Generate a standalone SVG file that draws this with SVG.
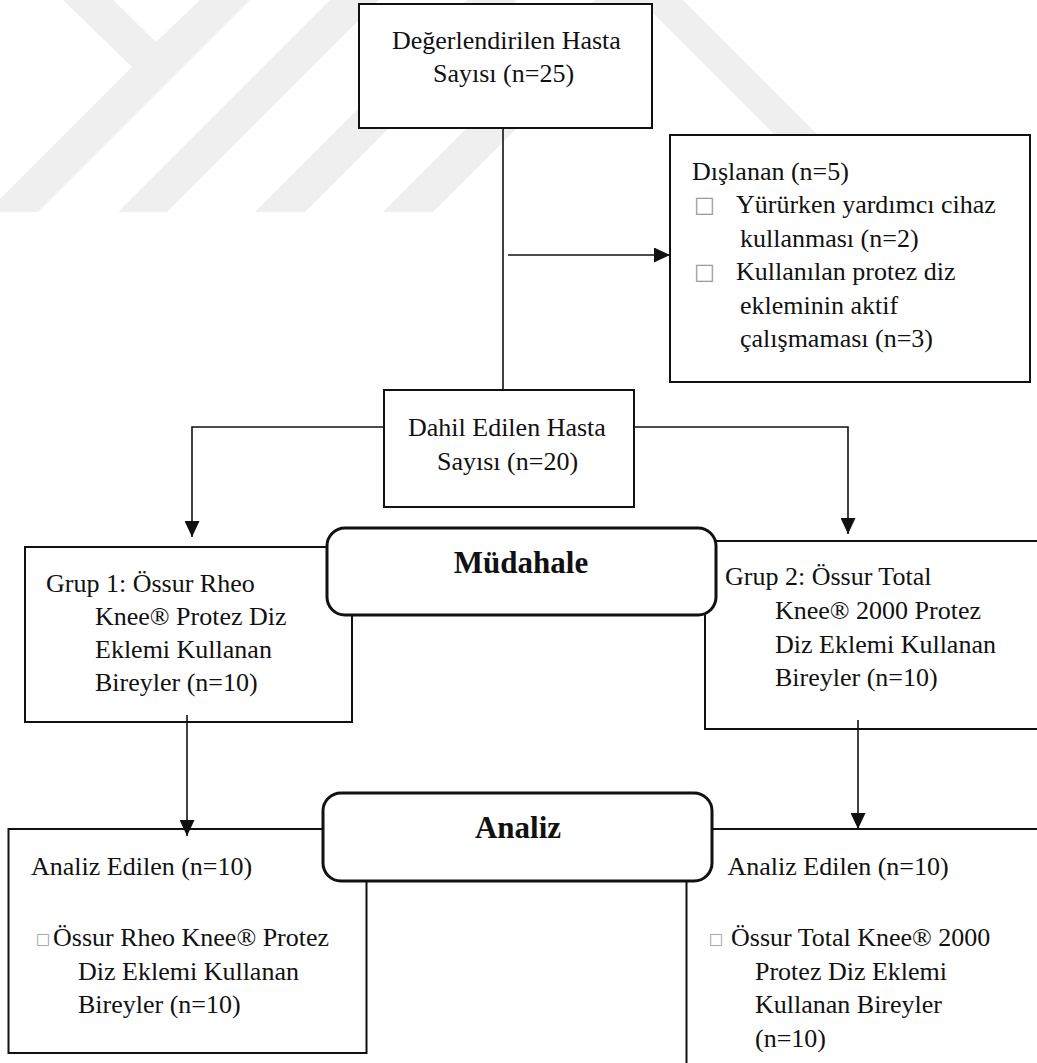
<svg xmlns="http://www.w3.org/2000/svg" width="1037" height="1063" viewBox="0 0 1037 1063">
<style>
.box{fill:#fff;stroke:#111;stroke-width:2}
.rbox{fill:#fff;stroke:#111;stroke-width:3}
.wm{fill:#efefef}
.t{font-size:26px;fill:#111}
.b{font-size:31px;font-weight:bold;fill:#111;text-anchor:middle}
.sq{fill:#9a9a9a}
.c{fill:none;stroke:#111;stroke-width:1.6}
</style>
<defs>
<marker id="ah" viewBox="0 0 16 15" refX="16" refY="7.5" markerWidth="16" markerHeight="15" markerUnits="userSpaceOnUse" orient="auto">
<path d="M0,0 L16,7.5 L0,15 z" fill="#111"/>
</marker>
</defs>
<rect width="1037" height="1063" fill="#fff"/>
<g id="watermark">
<polygon class="wm" points="63,0 113,0 156,42 200,0 250,0 38,212 0,212 0,199 132,67"/>
<polygon class="wm" points="330,0 379,0 167,212 118,212"/>
<polygon class="wm" points="467,0 517,0 305,212 255,212"/>
<polygon class="wm" points="595,0 645,0 433,212 383,212"/>
<polygon class="wm" points="640,0 683,0 818,135 775,135"/>
</g>
<g id="connectors">
<line class="c" x1="503" y1="128" x2="503" y2="390"/>
<line class="c" x1="508" y1="255" x2="670" y2="255" marker-end="url(#ah)"/>
<polyline class="c" points="384,427 192,427 192,537" marker-end="url(#ah)"/>
<polyline class="c" points="634,427 848,427 848,534" marker-end="url(#ah)"/>
</g>
<g font-family="'Liberation Serif', 'Times New Roman', Times, serif">
<g id="n-degerlendirilen">
<rect class="box" x="359" y="4" width="293" height="124"/>
<text class="t" x="392" y="49">Değerlendirilen Hasta</text>
<text class="t" x="433" y="82">Sayısı (n=25)</text>
</g>
<g id="n-dislanan">
<rect class="box" x="670" y="135" width="360" height="247"/>
<text class="t" x="692" y="179.5">Dışlanan (n=5)</text>
<text class="sq" x="694" y="212" font-size="22" font-family="'DejaVu Sans', sans-serif">□</text>
<text class="t" x="736" y="213">Yürürken yardımcı cihaz</text>
<text class="t" x="740" y="246.5">kullanması (n=2)</text>
<text class="sq" x="694" y="279" font-size="22" font-family="'DejaVu Sans', sans-serif">□</text>
<text class="t" x="736" y="280">Kullanılan protez diz</text>
<text class="t" x="740" y="313.5">ekleminin aktif</text>
<text class="t" x="740" y="347">çalışmaması (n=3)</text>
</g>
<g id="n-dahil">
<rect class="box" x="384" y="390" width="250" height="117"/>
<text class="t" x="408" y="436">Dahil Edilen Hasta</text>
<text class="t" x="437" y="470">Sayısı (n=20)</text>
</g>
<g id="n-grup1">
<rect class="box" x="25" y="547" width="327" height="175"/>
<text class="t" x="46" y="591.5">Grup 1: Össur Rheo</text>
<text class="t" x="95" y="624.5">Knee® Protez Diz</text>
<text class="t" x="95" y="657.5">Eklemi Kullanan</text>
<text class="t" x="95" y="690.5">Bireyler (n=10)</text>
</g>
<g id="n-grup2">
<rect class="box" x="705" y="541" width="345" height="188"/>
<text class="t" x="725" y="585">Grup 2: Össur Total</text>
<text class="t" x="775" y="619">Knee® 2000 Protez</text>
<text class="t" x="775" y="652.5">Diz Eklemi Kullanan</text>
<text class="t" x="775" y="686">Bireyler (n=10)</text>
</g>
<g id="n-analiz-sol">
<rect class="box" x="8.5" y="829" width="358" height="224"/>
<text class="t" x="31" y="875">Analiz Edilen (n=10)</text>
<text class="sq" x="36" y="944" font-size="15" font-family="'DejaVu Sans', sans-serif">□</text>
<text class="t" x="53" y="946">Össur Rheo Knee® Protez</text>
<text class="t" x="78" y="979.5">Diz Eklemi Kullanan</text>
<text class="t" x="78" y="1013">Bireyler (n=10)</text>
</g>
<g id="n-analiz-sag">
<rect class="box" x="686.5" y="829" width="360" height="260"/>
<text class="t" x="727.5" y="875">Analiz Edilen (n=10)</text>
<text class="sq" x="709" y="944" font-size="15" font-family="'DejaVu Sans', sans-serif">□</text>
<text class="t" x="731" y="946">Össur Total Knee® 2000</text>
<text class="t" x="755" y="979.5">Protez Diz Eklemi</text>
<text class="t" x="755" y="1013">Kullanan Bireyler</text>
<text class="t" x="755" y="1046.5">(n=10)</text>
</g>
<g id="arrows-lower">
<line class="c" x1="187" y1="715" x2="187" y2="836" marker-end="url(#ah)"/>
<line class="c" x1="858" y1="720" x2="858" y2="829" marker-end="url(#ah)"/>
</g>
<g id="n-mudahale">
<rect class="rbox" x="327" y="528" width="389" height="87" rx="18"/>
<text class="b" x="521" y="573">Müdahale</text>
</g>
<g id="n-analiz">
<rect class="rbox" x="323" y="793" width="389" height="88" rx="18"/>
<text class="b" x="518" y="838">Analiz</text>
</g>
</g>
</svg>
